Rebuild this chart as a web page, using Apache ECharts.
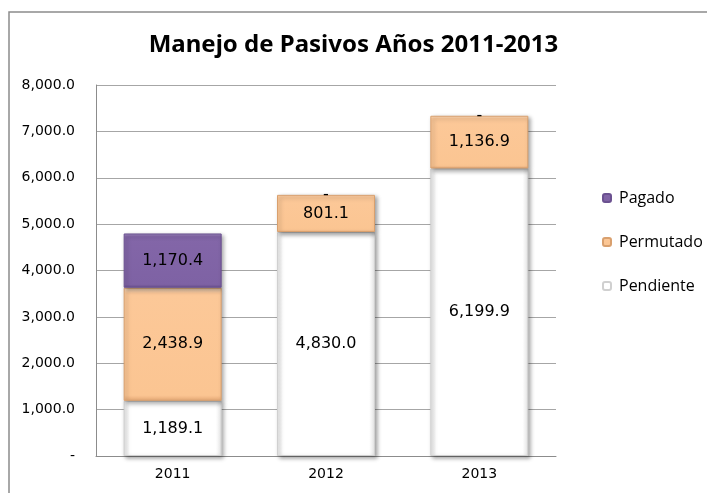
<!DOCTYPE html>
<html>
<head>
<meta charset="utf-8">
<script src="https://cdn.jsdelivr.net/npm/echarts@6/dist/echarts.min.js"></script>
<style>
  html, body { margin: 0; padding: 0; background: #fff; }
  #chart { width: 707px; height: 493px; }
</style>
</head>
<body>
<div id="chart"></div>
<script>
  const years = ['2011', '2012', '2013'];
  const pendiente = [1189.1, 4830.0, 6199.9];
  const permutado = [2438.9, 801.1, 1136.9];
  const pagado = [1170.4, 0, 0];
  const legendOrder = ['Pagado', 'Permutado', 'Pendiente'];

  const chart = echarts.init(document.getElementById('chart'));

  const fmt = v => v === 0 ? '-' : v.toLocaleString('en-US', { minimumFractionDigits: 1, maximumFractionDigits: 1 });

  const labelStyle = {
    show: true,
    position: 'inside',
    color: '#000',
    fontFamily: 'DejaVu Sans',
    fontSize: 16,
    formatter: p => fmt(p.value)
  };

  const shadow = {
    shadowColor: 'rgba(0,0,0,0.35)',
    shadowBlur: 4,
    shadowOffsetX: 2,
    shadowOffsetY: 2
  };

  // zero segments: keep the "-" label, hide the flat bar
  const withZeros = arr => arr.map(v => v === 0
    ? { value: 0, itemStyle: { borderWidth: 0, color: 'rgba(0,0,0,0)', shadowColor: 'rgba(0,0,0,0)' } }
    : v);

  chart.setOption({
    backgroundColor: '#fff',
    animation: false,
    graphic: [{
      type: 'rect',
      shape: { x: 9, y: 12, width: 720, height: 500 },
      style: { fill: 'none', stroke: '#8c8c8c', lineWidth: 1.5 },
      z: -1
    }],
    title: {
      text: 'Manejo de Pasivos Años 2011-2013',
      left: 'center',
      top: 28,
      textStyle: { fontFamily: 'Noto Sans', fontWeight: 'bold', fontSize: 24, color: '#000' }
    },
    legend: {
      orient: 'vertical',
      left: 597,
      top: 184,
      itemWidth: 8,
      itemHeight: 8,
      itemGap: 26,
      data: legendOrder,
      textStyle: { fontFamily: 'Open Sans', fontSize: 16, color: '#000', lineHeight: 18, padding: [0, 0, 0, 3] }
    },
    grid: { left: 96, right: 151, top: 85, bottom: 37 },
    xAxis: {
      type: 'category',
      data: years,
      axisLine: { lineStyle: { color: '#8c8c8c', width: 1 } },
      axisTick: { show: false },
      axisLabel: { fontFamily: 'DejaVu Sans', fontSize: 14, color: '#000', margin: 11 }
    },
    yAxis: {
      type: 'value',
      min: 0,
      max: 8000,
      interval: 1000,
      axisLine: { show: true, lineStyle: { color: '#8c8c8c', width: 1 } },
      axisTick: { show: false },
      splitLine: { lineStyle: { color: '#a6a6a6', width: 1 } },
      axisLabel: { fontFamily: 'DejaVu Sans', fontSize: 14, color: '#000', margin: 21, formatter: v => fmt(v) }
    },
    series: [
      {
        name: 'Pendiente',
        type: 'bar',
        stack: 'total',
        barWidth: 98,
        data: withZeros(pendiente),
        label: labelStyle,
        itemStyle: Object.assign({
          color: new echarts.graphic.LinearGradient(0, 0, 1, 0, [
            { offset: 0, color: '#e6e6e6' },
            { offset: 0.06, color: '#ffffff' },
            { offset: 0.94, color: '#ffffff' },
            { offset: 1, color: '#e6e6e6' }
          ]),
          borderColor: '#d0d0d0',
          borderWidth: 1
        }, shadow)
      },
      {
        name: 'Permutado',
        type: 'bar',
        stack: 'total',
        data: withZeros(permutado),
        label: labelStyle,
        itemStyle: Object.assign({
          color: new echarts.graphic.LinearGradient(0, 0, 0, 1, [
            { offset: 0, color: '#fde0c4' },
            { offset: 0.05, color: '#fcc898' },
            { offset: 0.95, color: '#fbc592' },
            { offset: 1, color: '#e8aa78' }
          ]),
          borderColor: '#d9a06e',
          borderWidth: 1
        }, shadow)
      },
      {
        name: 'Pagado',
        type: 'bar',
        stack: 'total',
        data: withZeros(pagado),
        label: labelStyle,
        itemStyle: Object.assign({
          color: new echarts.graphic.LinearGradient(0, 0, 0, 1, [
            { offset: 0, color: '#a08ac0' },
            { offset: 0.06, color: '#8366a8' },
            { offset: 0.94, color: '#7e62a4' },
            { offset: 1, color: '#6a4f90' }
          ]),
          borderColor: '#6b5190',
          borderWidth: 1
        }, shadow)
      }
    ]
  });

  window.addEventListener('resize', () => chart.resize());
</script>
</body>
</html>
